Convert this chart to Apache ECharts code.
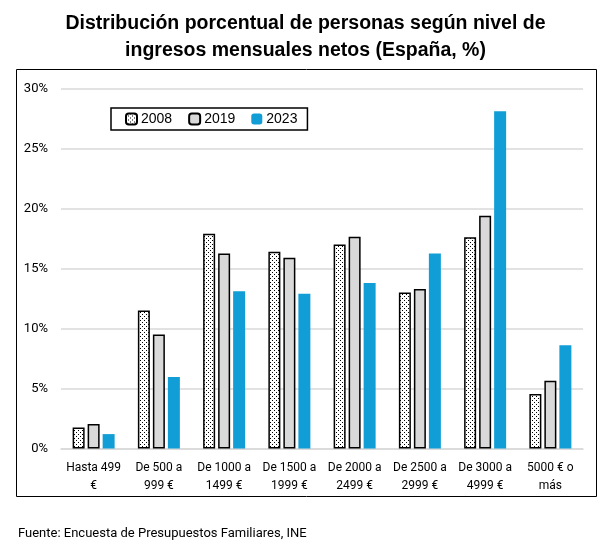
<!DOCTYPE html>
<html><head><meta charset="utf-8">
<script src="https://cdn.jsdelivr.net/npm/echarts@6/dist/echarts.min.js"></script>
<style>html,body{margin:0;padding:0;background:#fff}#c{width:611px;height:555px}</style>
</head><body><div id="c"></div>
<script>
const categories = ['Hasta 499\n€','De 500 a\n999 €','De 1000 a\n1499 €','De 1500 a\n1999 €','De 2000 a\n2499 €','De 2500 a\n2999 €','De 3000 a\n4999 €','5000 € o\nmás'];
const s2008 = [1.75, 11.5, 17.9, 16.4, 17.0, 13.0, 17.6, 4.55];
const s2019 = [2.05, 9.5, 16.25, 15.9, 17.65, 13.3, 19.4, 5.65];
const s2023 = [1.2, 5.95, 13.1, 12.9, 13.8, 16.25, 28.1, 8.6];
const yTicks = [0, 5, 10, 15, 20, 25, 30];

const pc = document.createElement('canvas');
pc.width = 4; pc.height = 4;
const g = pc.getContext('2d');
g.fillStyle = '#fff'; g.fillRect(0,0,4,4);
g.fillStyle = '#000';
g.fillRect(0,0,1,1); g.fillRect(2,2,1,1);

const font = 'Roboto, "Liberation Sans", sans-serif';
const font2 = '"Liberation Sans", Arial, sans-serif';
const chart = echarts.init(document.getElementById('c'), null, {renderer:'canvas'});
chart.setOption({
  animation:false,
  textStyle:{fontFamily:font},
  title:{
    text:'Distribución porcentual de personas según nivel de\ningresos mensuales netos (España, %)',
    left:'center', top:5,
    textStyle:{fontSize:19.5, fontWeight:'bold', color:'#000', lineHeight:27, fontFamily:font2}
  },
  graphic:[
    {type:'rect', shape:{x:16.5,y:69.5,width:580,height:427}, style:{fill:'none', stroke:'#000', lineWidth:1}, z:-1},
    {type:'text', left:18, top:527, style:{text:'Fuente: Encuesta de Presupuestos Familiares, INE', fontSize:13, fill:'#000', fontFamily:font}}
  ],
  legend:{
    left:111, top:108, width:194, height:20,
    borderColor:'#000', borderWidth:1.5, padding:[4,10,4,14],
    itemWidth:11, itemHeight:11, itemGap:16,
    textStyle:{fontSize:14, color:'#000', padding:[0,0,0,-1], fontFamily:font2},
    data:['2008','2019','2023']
  },
  grid:{left:61, right:28, top:88.5, bottom:106.5},
  xAxis:{
    type:'category', data:categories,
    axisTick:{show:false},
    axisLine:{lineStyle:{color:'#d9d9d9', width:1.5}},
    axisLabel:{fontSize:12, color:'#000', lineHeight:18, margin:10, interval:0}
  },
  yAxis:{
    type:'value', min:yTicks[0], max:yTicks[yTicks.length-1], interval:5,
    axisLabel:{formatter:'{value}%', fontSize:13, color:'#000', margin:13},
    splitLine:{lineStyle:{color:'#d9d9d9', width:1.5}},
    axisLine:{show:false}, axisTick:{show:false}
  },
  series:[
    {name:'2008', type:'bar', data:s2008, barWidth:12, barGap:'25%',
     itemStyle:{color:{image:pc, repeat:'repeat'}, borderColor:'#000', borderWidth:1.5}},
    {name:'2019', type:'bar', data:s2019, barWidth:12, barGap:'25%',
     itemStyle:{color:'#d9d9d9', borderColor:'#000', borderWidth:1.5}},
    {name:'2023', type:'bar', data:s2023, barWidth:12, barGap:'25%',
     itemStyle:{color:'#119ed7'}}
  ]
});
</script></body></html>
